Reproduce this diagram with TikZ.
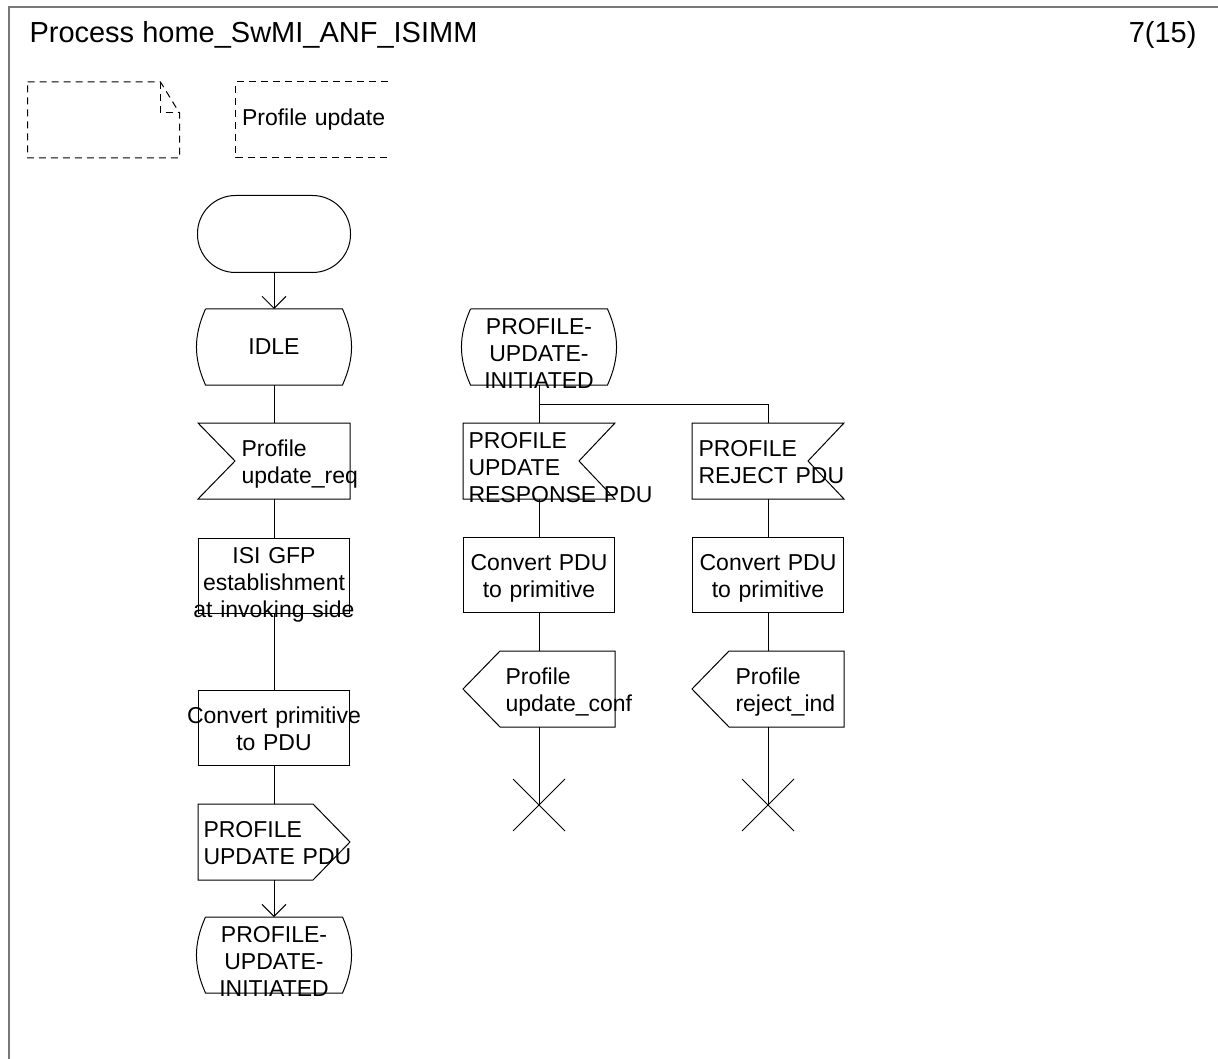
\documentclass[tikz,border=0pt]{standalone}
\usepackage{fontspec}
\setmainfont{Liberation Sans}
\usetikzlibrary{arrows.meta,positioning,shapes.misc}
\definecolor{framegray}{RGB}{120,120,120}

\begin{document}
\begin{tikzpicture}[
    x=1pt, y=-1pt,
    line width=1pt,
    node distance=38pt,
    every node/.style={font=\fontsize{23}{27}\selectfont, inner sep=0pt},
    sym/.style={minimum width=151pt, minimum height=75pt, text width=151pt},
    taskbox/.style={sym, draw, align=center},
    sdlstate/.style={sym, minimum width=136pt, text width=136pt, align=center},
    recv/.style={sym, align=left, execute at begin node={\leftskip=#1}},
    send/.style={sym, align=left, execute at begin node={\leftskip=#1}},
    twoline/.style={text height=17pt, text depth=27pt},
    threeline/.style={text height=25pt, text depth=50pt},
    startbox/.style={draw, rounded corners=38pt, minimum width=153pt, minimum height=77pt},
    stopx/.style={draw, cross out, minimum size=51pt},
    flow/.style={-{Straight Barb[length=12pt, width=24pt]}},
    dashedline/.style={dash pattern=on 7pt off 5pt}
]
\useasboundingbox (0,0) rectangle (1218,1059);
\draw[framegray, line width=2pt] (9,1059) -- (9,7) -- (1218,7);
\node[anchor=base west, font=\fontsize{29}{35}\selectfont] (title) at (29,43) {Process home\_SwMI\_ANF\_ISIMM};
\node[anchor=base east, font=\fontsize{29}{35}\selectfont] (page) at (1197,43) {7(15)};

% text symbol and procedure reference
\node[sym] (txtsym) at (103.5,120) {};
\node[recv=6pt] (procref) at (311.5,120) {Profile update};
\draw[dashedline] (txtsym.north west) -- ([xshift=-19pt]txtsym.north east) -- ([yshift=-31pt]txtsym.north east) -- (txtsym.south east) -- (txtsym.south west) -- cycle;
\draw[dashedline] ([xshift=-19pt]txtsym.north east) -- ([xshift=-19pt,yshift=-31pt]txtsym.north east) -- ([yshift=-31pt]txtsym.north east);
\draw[dashedline] (procref.north east) -- (procref.north west) -- (procref.south west) -- (procref.south east);

% left branch
\node[sdlstate] (idle) at (274,347) {IDLE};
\node[startbox, above=36pt of idle] (start) {};
\node[recv=43pt, twoline, below=of idle] (reqIn) {Profile\\update\_req};
\node[taskbox, threeline, below=39pt of reqIn] (isiGfp) {ISI GFP\\establishment\\\makebox[0pt]{at invoking side}};
\node[taskbox, twoline, below=76pt of isiGfp] (convPrim) {\makebox[0pt]{Convert primitive}\\to PDU};
\node[send=5pt, twoline, below=of convPrim] (pduOut) {PROFILE\\UPDATE~PDU};
\node[sdlstate, threeline, below=37pt of pduOut] (piL) {PROFILE-\\UPDATE-\\INITIATED};

% right branches
\node[sdlstate, threeline, right=128pt of idle] (piM) {PROFILE-\\UPDATE-\\INITIATED};
\node[recv=5pt, threeline, below=of piM] (respIn) {PROFILE\\UPDATE\\RESPONSE~PDU};
\node[recv=6pt, twoline, right=77pt of respIn] (rejIn) {PROFILE\\REJECT~PDU};
\node[taskbox, twoline, below=of respIn] (convA) {Convert PDU\\to primitive};
\node[taskbox, twoline, below=of rejIn] (convB) {Convert PDU\\to primitive};
\node[send=42pt, twoline, below=of convA] (confOut) {Profile\\update\_conf};
\node[send=43pt, twoline, below=of convB] (rejOut) {Profile\\reject\_ind};
\node[stopx, below=52pt of confOut] (stopA) {};
\node[stopx, below=52pt of rejOut] (stopB) {};

% symbol outlines
\foreach \n in {idle,piL,piM}
  \draw (\n.north west) -- (\n.north east) to[bend left=24] (\n.south east) -- (\n.south west) to[bend left=24] (\n.north west);
\draw (reqIn.north west) -- (reqIn.north east) -- (reqIn.south east) -- (reqIn.south west) -- ([xshift=37pt]reqIn.west) -- cycle;
\foreach \n in {respIn,rejIn}
  \draw (\n.north west) -- (\n.north east) -- ([xshift=-36pt]\n.east) -- (\n.south east) -- (\n.south west) -- cycle;
\draw (pduOut.north west) -- ([xshift=-37pt]pduOut.north east) -- (pduOut.east) -- ([xshift=-37pt]pduOut.south east) -- (pduOut.south west) -- cycle;
\foreach \n in {confOut,rejOut}
  \draw ([xshift=37pt]\n.north west) -- (\n.north east) -- (\n.south east) -- ([xshift=37pt]\n.south west) -- (\n.west) -- cycle;

% connectors
\draw[flow] (start) -- (idle);
\draw (idle) -- (reqIn);
\draw (reqIn) -- (isiGfp);
\draw (isiGfp) -- (convPrim);
\draw (convPrim) -- (pduOut);
\draw[flow] (pduOut) -- (piL);
\draw (piM) -- (respIn);
\draw (piM.south) -- ([yshift=-19pt]piM.south) -| (rejIn.north);
\draw (respIn) -- (convA);
\draw (rejIn) -- (convB);
\draw (convA) -- (confOut);
\draw (convB) -- (rejOut);
\draw (confOut) -- (stopA.center);
\draw (rejOut) -- (stopB.center);
\end{tikzpicture}
\end{document}
